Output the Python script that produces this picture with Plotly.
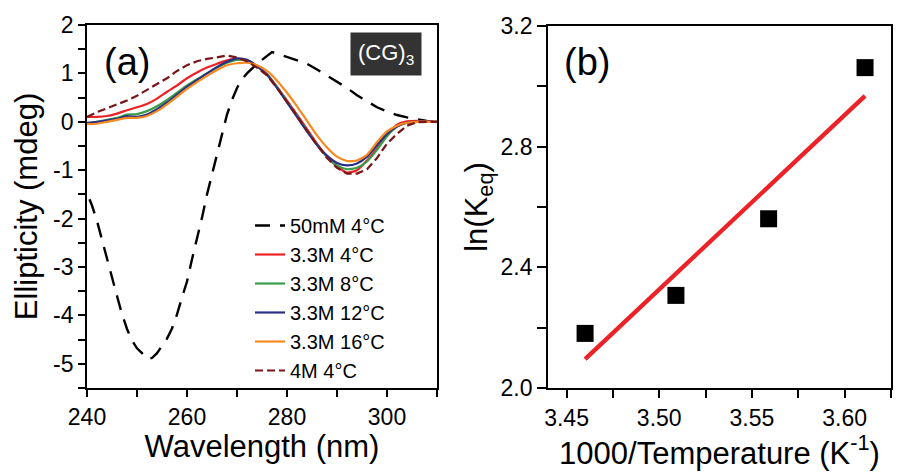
import numpy as np
import plotly.graph_objects as go

# ---------------- Panel (a) data ----------------
wl_black = [240.5, 241, 242, 243, 244, 245, 246, 247, 248, 249, 250, 251, 252, 253, 254, 255,
            256, 257, 258, 259, 260, 261, 262, 263, 264, 265, 266, 267, 268, 269, 270, 271,
            272, 274, 276, 277, 278, 280, 282, 284, 286, 288, 290, 292, 294, 296, 298, 300,
            302, 304, 306, 308, 310]
cd_50mM_4C = [-1.6, -1.73, -2.05, -2.45, -2.8, -3.22, -3.6, -3.97, -4.28, -4.52, -4.68, -4.78,
              -4.9, -4.88, -4.78, -4.63, -4.48, -4.27, -3.98, -3.63, -3.3, -2.84, -2.42, -1.98,
              -1.5, -1.1, -0.68, -0.25, 0.15, 0.45, 0.7, 0.88, 1.0, 1.2, 1.37, 1.44, 1.41, 1.34,
              1.28, 1.2, 1.08, 0.95, 0.83, 0.7, 0.55, 0.42, 0.3, 0.21, 0.14, 0.09, 0.05, 0.02, 0.0]

wl = [240, 242, 244, 246, 248, 250, 252, 254, 256, 258, 260, 262, 264, 266, 268, 270, 272, 274,
      276, 278, 280, 282, 284, 286, 288, 290, 292, 294, 296, 298, 300, 302, 304, 306, 308, 310]
cd_33M_4C = [0.10, 0.10, 0.12, 0.17, 0.24, 0.30, 0.37, 0.48, 0.62, 0.75, 0.90, 1.02, 1.12, 1.20,
             1.27, 1.30, 1.26, 1.14, 0.98, 0.72, 0.44, 0.15, -0.15, -0.45, -0.72, -0.92, -1.05,
             -1.00, -0.80, -0.55, -0.28, -0.06, 0.01, 0.02, 0.01, 0.0]
cd_33M_8C = [-0.03, 0.0, 0.04, 0.08, 0.15, 0.16, 0.22, 0.32, 0.45, 0.60, 0.75, 0.88, 1.00, 1.12,
             1.22, 1.28, 1.27, 1.15, 0.98, 0.72, 0.42, 0.12, -0.18, -0.47, -0.72, -0.90, -0.98,
             -0.95, -0.82, -0.58, -0.30, -0.10, -0.02, 0.0, 0.0, 0.0]
cd_33M_12C = [-0.02, 0.0, 0.03, 0.06, 0.12, 0.10, 0.15, 0.26, 0.40, 0.56, 0.72, 0.86, 1.00, 1.13,
              1.24, 1.31, 1.28, 1.15, 0.97, 0.70, 0.40, 0.10, -0.20, -0.48, -0.70, -0.85, -0.90,
              -0.86, -0.72, -0.48, -0.25, -0.10, -0.02, 0.0, 0.0, 0.0]
cd_33M_16C = [-0.05, -0.04, 0.0, 0.04, 0.08, 0.08, 0.12, 0.22, 0.36, 0.52, 0.68, 0.82, 0.95, 1.07,
              1.17, 1.21, 1.22, 1.17, 1.05, 0.85, 0.60, 0.32, 0.02, -0.28, -0.53, -0.72, -0.81,
              -0.80, -0.68, -0.42, -0.20, -0.08, -0.02, 0.0, 0.0, 0.0]
cd_4M_4C = [0.10, 0.20, 0.28, 0.36, 0.44, 0.54, 0.66, 0.78, 0.90, 1.05, 1.17, 1.25, 1.30, 1.33,
            1.37, 1.33, 1.25, 1.12, 0.96, 0.70, 0.42, 0.12, -0.18, -0.48, -0.75, -0.95, -1.07,
            -1.07, -0.98, -0.75, -0.45, -0.25, -0.08, -0.01, 0.0, 0.0]

series_names = ["50mM 4°C", "3.3M 4°C", "3.3M 8°C", "3.3M 12°C", "3.3M 16°C", "4M 4°C"]
series_colors = ["#000000", "#ec2227", "#3a9b48", "#2a2f86", "#f7891f", "#7a1517"]

ya_ticks = [-5, -4, -3, -2, -1, 0, 1, 2]
ya_ticktext = ["-5", "-4", "-3", "-2", "-1", "0", "1", "2"]

# ---------------- Panel (b) data ----------------
inv_temp = [3.46, 3.509, 3.559, 3.611]
ln_keq = [2.181, 2.307, 2.561, 3.062]

FONT = "Liberation Sans, Arial, sans-serif"

fig = go.Figure()

fig.add_trace(go.Scatter(x=wl_black, y=cd_50mM_4C, mode="lines", name=series_names[0],
                         line=dict(color=series_colors[0], width=2.4, dash="15px,10px"),
                         xaxis="x", yaxis="y"))
for name, col, ys in zip(series_names[1:5], series_colors[1:5],
                         [cd_33M_4C, cd_33M_8C, cd_33M_12C, cd_33M_16C]):
    fig.add_trace(go.Scatter(x=wl, y=ys, mode="lines", name=name,
                             line=dict(color=col, width=2.2, shape="spline", smoothing=0.6),
                             xaxis="x", yaxis="y"))
fig.add_trace(go.Scatter(x=wl, y=cd_4M_4C, mode="lines", name=series_names[5],
                         line=dict(color=series_colors[5], width=2.2, dash="8px,4px"),
                         xaxis="x", yaxis="y"))

# panel (b)
slope, intercept = np.polyfit(inv_temp, ln_keq, 1)
fit_x = [min(inv_temp), max(inv_temp)]
fit_y = [slope * v + intercept for v in fit_x]
fig.add_trace(go.Scatter(x=inv_temp, y=ln_keq, mode="markers", showlegend=False,
                         marker=dict(symbol="square", size=17, color="black"),
                         xaxis="x2", yaxis="y2"))
fig.add_trace(go.Scatter(x=fit_x, y=fit_y, mode="lines", showlegend=False,
                         line=dict(color="#ec2227", width=4.3),
                         xaxis="x2", yaxis="y2"))

W, H = 897, 472
ax_common = dict(showline=True, linecolor="black", linewidth=1.8, mirror=True,
                 ticks="outside", tickwidth=1.8, tickcolor="black",
                 showgrid=False, zeroline=False, automargin=False,
                 tickfont=dict(family=FONT, size=23, color="black"))
title_font = dict(family=FONT, size=31, color="black")

fig.update_layout(
    width=W, height=H,
    margin=dict(l=0, r=0, t=0, b=0),
    paper_bgcolor="white", plot_bgcolor="white",
    font=dict(family=FONT, color="black"),
    xaxis=dict(domain=[87 / W, 437 / W], range=[240, 310], tick0=240, dtick=20, ticklen=7,
               minor=dict(dtick=10, ticks="outside", ticklen=7, tickwidth=1.8, tickcolor="black"),
               title=dict(text="Wavelength (nm)", font=title_font, standoff=0),
               anchor="y", **ax_common),
    yaxis=dict(domain=[1 - 388 / H, 1 - 25 / H], range=[-5.5, 2],
               tickmode="array", tickvals=ya_ticks, ticktext=ya_ticktext, ticklen=7,
               minor=dict(dtick=0.5, tick0=0, ticks="outside", ticklen=7, tickwidth=1.8,
                          tickcolor="black"),
               title=dict(text="Ellipticity (mdeg)", font=title_font, standoff=6),
               anchor="x", **ax_common),
    xaxis2=dict(domain=[548 / W, 891 / W], range=[3.44, 3.625], tick0=3.45, dtick=0.05,
                tickformat=".2f", ticklen=8,
                minor=dict(dtick=0.025, ticks="outside", ticklen=8, tickwidth=1.8, tickcolor="black"),
                title=dict(text="1000/Temperature (K<sup>-1</sup>)", font=title_font, standoff=0),
                anchor="y2", **ax_common),
    yaxis2=dict(domain=[1 - 388 / H, 1 - 26 / H], range=[2.0, 3.2], tick0=2.0, dtick=0.4,
                tickformat=".1f", ticklen=9,
                minor=dict(dtick=0.2, ticks="outside", ticklen=9, tickwidth=1.8, tickcolor="black"),
                title=dict(text="ln(K<sub>eq</sub>)", font=title_font, standoff=4),
                anchor="x2", **ax_common),
    legend=dict(x=250 / W, y=1 - 206 / H, xanchor="left", yanchor="top",
                bgcolor="rgba(0,0,0,0)", font=dict(family=FONT, size=20, color="black"),
                tracegroupgap=0, itemwidth=30),
    showlegend=True,
    annotations=[
        dict(text="(a)", x=127 / W, y=1 - 62 / H, xref="paper", yref="paper",
             xanchor="center", yanchor="middle",
             showarrow=False, font=dict(family=FONT, size=38, color="black")),
        dict(text="(b)", x=587 / W, y=1 - 62 / H, xref="paper", yref="paper",
             xanchor="center", yanchor="middle",
             showarrow=False, font=dict(family=FONT, size=38, color="black")),
        dict(text="(CG)<sub>3</sub>", x=385.5 / W, y=1 - 54 / H, xref="paper", yref="paper",
             xanchor="center", yanchor="middle",
             showarrow=False, bgcolor="#333333", borderpad=7,
             font=dict(family=FONT, size=22, color="white")),
    ],
)

fig.write_html("out.html")
